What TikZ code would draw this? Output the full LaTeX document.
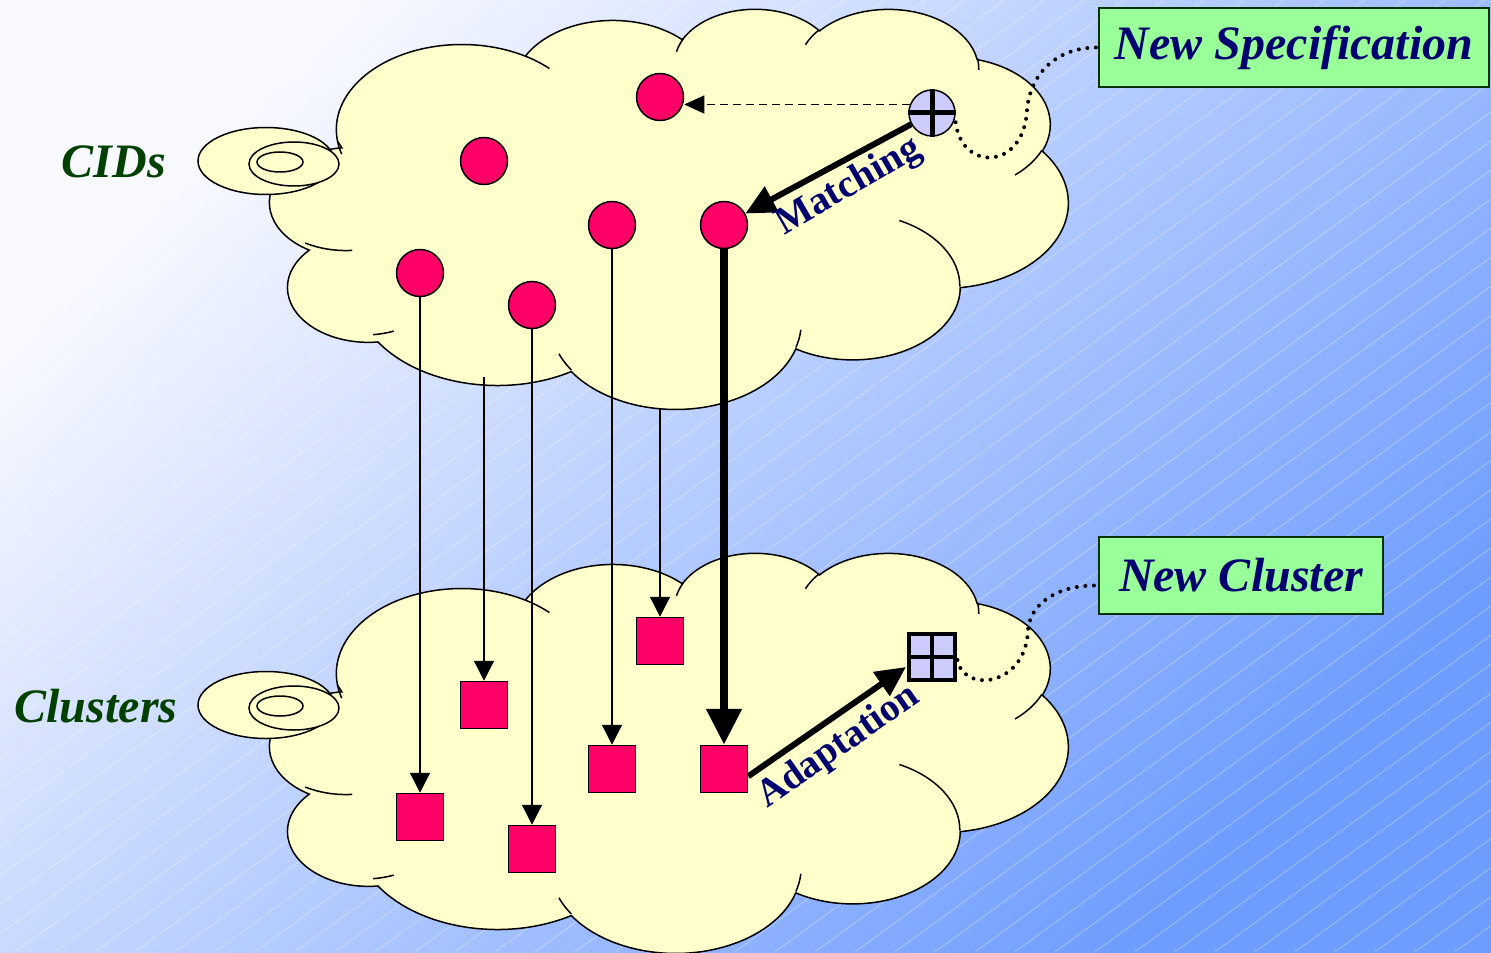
\documentclass[tikz,border=0pt]{standalone}
\usepackage{fontspec}
\setmainfont{Liberation Serif}
\usetikzlibrary{arrows.meta,calc}
\definecolor{cloudfill}{HTML}{FFFFCC}
\definecolor{redfill}{HTML}{FF0066}
\definecolor{lavfill}{HTML}{CCCCFF}
\definecolor{boxfill}{HTML}{99FF99}
\definecolor{boxline}{HTML}{003300}
\definecolor{navytext}{HTML}{000070}
\definecolor{dgreen}{HTML}{004000}
\definecolor{bgA}{HTML}{F8F9FF}
\definecolor{bgB}{HTML}{6E9CFF}
\newcommand\oarc[4]{arc[start angle={atan2(#1*sin(#3),#2*cos(#3))}, delta angle={mod(atan2(#1*sin(#3+#4),#2*cos(#3+#4))-atan2(#1*sin(#3),#2*cos(#3))+720,360)}, x radius=#1, y radius=#2]}
\newcommand\cloudshape[1]{%
\begin{scope}[shift={(265,#1)}, x=9.294pt, y=-4.6296pt]
 \path[cloudst] (3.900,14.370)
   \oarc{6.753}{9.190}{-190.48748}{123.78053}
   \oarc{5.333}{7.267}{-144.10238}{89.94523}
   \oarc{4.365}{5.945}{-145.80792}{99.72302}
   \oarc{4.857}{6.595}{-130.98607}{117.24173}
   \oarc{5.333}{7.273}{-78.70888}{109.02692}
   \oarc{6.775}{9.220}{-46.26725}{130.269}
   \oarc{5.785}{7.867}{0.62502}{114.03333}
   \oarc{6.752}{9.215}{22.4516}{115.17255}
   \oarc{7.720}{10.543}{66.24263}{71.4854}
   \oarc{4.360}{5.918}{-274.94208}{146.73557}
   \oarc{4.345}{5.945}{-246.8285}{152.51885}
   -- cycle;
 \draw[cloudline] (4.693,26.177) \oarc{4.345}{5.945}{86.742}{26.4295}
   (6.928,34.899) \oarc{4.360}{5.918}{73.61047}{11.44747}
   (16.478,39.090) \oarc{6.752}{9.215}{137.62415}{14.0811}
   (28.827,34.751) \oarc{6.752}{9.215}{6.45327}{15.99835}
   (34.129,22.954) \oarc{5.785}{7.867}{-70.29235}{70.91737}
   (41.798,15.354) \oarc{5.333}{7.273}{30.31803}{27.7515}
   (38.324,5.426) \oarc{4.857}{6.595}{-13.74433}{14.8589}
   (29.078,3.952) \oarc{4.857}{6.595}{-149.18145}{18.19537}
   (22.141,4.720) \oarc{4.365}{5.945}{-163.49427}{17.68635}
   (14.000,5.192) \oarc{6.753}{9.190}{-66.70695}{12.31935}
   (4.127,15.789) \oarc{6.753}{9.190}{157.65435}{11.85817};
\end{scope}
\path[cloudst] (266,{161+#1-8}) ellipse [x radius=68, y radius=33.5];
\path[cloudst] (294,{164+#1-8}) ellipse [x radius=45, y radius=22];
\path[cloudst] (280,{162+#1-8}) ellipse [x radius=23, y radius=10];
}
\tikzset{
  cloudst/.style={fill=cloudfill, draw=black, line width=0.75pt},
  cloudline/.style={draw=black, line width=0.75pt},
  redc/.style={circle, fill=redfill, draw=black, line width=0.75pt, minimum size=23.5pt, inner sep=0pt},
  reds/.style={rectangle, fill=redfill, draw=black, line width=0.75pt, minimum size=23.5pt, inner sep=0pt},
  sidelabel/.style={text=dgreen, font=\fontsize{24}{28}\selectfont\bfseries\itshape},
  boxlabel/.style={rectangle, fill=boxfill, draw=boxline, line width=1.1pt, text=navytext, font=\fontsize{24}{28}\selectfont\bfseries\itshape, inner sep=0pt},
  arrowlabel/.style={text=navytext, font=\fontsize{19.5}{22}\selectfont\bfseries, inner sep=0pt},
  thinarrow/.style={line width=0.75pt, -{Triangle[length=10pt,width=10pt]}},
  bigarrow/.style={line width=3pt, -{Triangle[length=15pt,width=14pt]}},
  dotline/.style={line width=2pt, dash pattern=on 0pt off 4.3pt, line cap=round},
  bgline/.style={white, opacity=0.35, line width=0.4pt}
}
\begin{document}
\begin{tikzpicture}[x=0.5pt, y=-0.5pt]
\useasboundingbox (0,0) rectangle (1491,952);
% background
\begin{scope}
 \clip (0,0) rectangle (1491,952);
 \shade[top color=bgA, bottom color=bgB, shading angle=45] (0,0) rectangle (1491,952);
 \foreach \i in {0,...,70} \draw[bgline] ({14.8+40*(\i-33)},952) -- ++(1310,-952);
\end{scope}
% clouds
\cloudshape{8}
\cloudshape{552}
% side labels
\node[sidelabel] (cids) at (114,162) {CIDs};
\node[sidelabel] (clus) at (96,706) {Clusters};
% circles
\node[redc] (cA) at (660,97) {};
\node[redc] (cB) at (484,161) {};
\node[redc] (cC) at (612,225) {};
\node[redc] (cD) at (724,225) {};
\node[redc] (cE) at (420,273) {};
\node[redc] (cF) at (532,305) {};
\node[circle, fill=lavfill, draw=black, line width=0.75pt, minimum size=23pt, inner sep=0pt] (L) at (932,113) {};
\draw[line width=2.5pt] (L.north) -- (L.south) (L.west) -- (L.east);
% squares
\node[reds] (sA) at (420,817) {};
\node[reds] (sB) at (484,705) {};
\node[reds] (sC) at (532,849) {};
\node[reds] (sD) at (612,769) {};
\node[reds] (sE) at (660,641) {};
\node[reds] (sF) at (724,769) {};
\node[rectangle, fill=lavfill, draw=black, line width=2pt, minimum size=23pt, inner sep=0pt] (Q) at (932,657) {};
\draw[line width=2pt] (Q.north) -- (Q.south) (Q.west) -- (Q.east);
% vertical connectors
\coordinate (pB) at (484,377);
\coordinate (pE) at (660,408);
\draw[thinarrow] (cE) -- (sA);
\draw[thinarrow] (pB) -- (sB);
\draw[thinarrow] (cF) -- (sC);
\draw[thinarrow] (cC) -- (sD);
\draw[thinarrow] (pE) -- (sE);
\draw[line width=4pt, -{Triangle[length=18pt,width=17pt]}] (cD) -- (sF);
% dashed
\draw[line width=0.6pt, dash pattern=on 4pt off 2.5pt, -{Triangle[length=10pt,width=9pt]}] (L.159) -- (cA.east |- L.159);
% matching / adaptation
\draw[bigarrow] (L) -- (cD);
\draw[bigarrow] ($(sF.south east)+(0,-17)$) -- ($(Q.south west)+(-1,-15)$);
\node[arrowlabel, rotate=30] (mt) at (849,187) {Matching};
\node[arrowlabel, rotate=35] (ad) at (839,747) {Adaptation};
% boxes
\node[boxlabel, minimum width=195pt, minimum height=39.5pt] (NS) at (1294,47.5) {New Specification};
\node[boxlabel, minimum width=142pt, minimum height=38.5pt] (NC) at (1241,575.5) {New Cluster};
\draw[dotline] ($(NS.west)+(-2,0)$) .. controls (1055,48) and (1030,75) .. (1027,110) .. controls (1024,172) and (958,172) .. (L.-12);
\draw[dotline] ($(NC.west)+(-4,10)$) .. controls (1055,586) and (1030,605) .. (1028,630) .. controls (1026,688) and (960,694) .. (Q.east);
\end{tikzpicture}
\end{document}
